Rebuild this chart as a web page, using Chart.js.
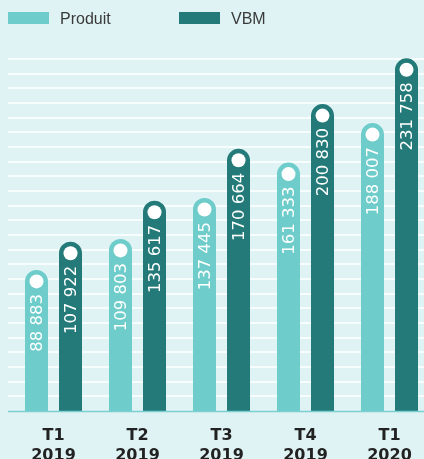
<!DOCTYPE html>
<html><head><meta charset="utf-8">
<script src="https://cdn.jsdelivr.net/npm/chart.js@4/dist/chart.umd.min.js"></script>
<style>
html,body{margin:0;padding:0;overflow:hidden;background:#dff3f4;width:424px;height:459px}
#wrap{position:absolute;left:0;top:0;width:440px;height:459px}
</style></head><body>
<div id="wrap"><canvas id="c"></canvas></div>
<script>
const QUARTERS = ['T1', 'T2', 'T3', 'T4', 'T1'];
const YEARS = ['2019', '2019', '2019', '2019', '2020'];
const SERIES_NAMES = ['Produit', 'VBM'];
const PRODUIT = [88883, 109803, 137445, 161333, 188007];
const VBM = [107922, 135617, 170664, 200830, 231758];
const Y_MIN = -6400;
const Y_MAX = 231300;
const GRID_COUNT = 24;

const COL_PRODUIT = '#6eccca';
const COL_VBM = '#237a78';

function fmt(v) { return String(v).replace(/\B(?=(\d{3})+(?!\d))/g, ' '); }

const gridPlugin = {
  id: 'gridDeco',
  beforeDatasetsDraw(chart) {
    const ctx = chart.ctx, y = chart.scales.y;
    ctx.save();
    ctx.strokeStyle = '#ffffff';
    ctx.lineWidth = 1.5;
    for (let i = 1; i <= GRID_COUNT; i++) {
      const py = Math.round(y.getPixelForValue(Y_MIN + i * (Y_MAX - Y_MIN) / GRID_COUNT));
      ctx.beginPath(); ctx.moveTo(8, py); ctx.lineTo(chart.width, py); ctx.stroke();
    }
    ctx.restore();
  },
  afterDatasetsDraw(chart) {
    const ctx = chart.ctx, y = chart.scales.y;
    ctx.save();
    const base = y.getPixelForValue(Y_MIN);
    ctx.strokeStyle = '#7ccfcf';
    ctx.lineWidth = 1.5;
    ctx.beginPath(); ctx.moveTo(8, base + 0.5); ctx.lineTo(chart.width, base + 0.5); ctx.stroke();
    chart.data.datasets.forEach((ds, di) => {
      const meta = chart.getDatasetMeta(di);
      meta.data.forEach((bar, i) => {
        ctx.fillStyle = '#ffffff';
        ctx.beginPath(); ctx.arc(bar.x, bar.y + 11.5, 7, 0, Math.PI * 2); ctx.fill();
        ctx.save();
        ctx.translate(bar.x + 1, bar.y + 24);
        ctx.rotate(-Math.PI / 2);
        ctx.font = '16.5px "DejaVu Sans"';
        ctx.textAlign = 'right';
        ctx.textBaseline = 'middle';
        ctx.fillText(fmt(ds.data[i]), 0, 0);
        ctx.restore();
      });
    });
    // legend
    const lx = [8, 179];
    ctx.font = '16px "Liberation Sans", Arial, sans-serif';
    ctx.textBaseline = 'alphabetic';
    ctx.textAlign = 'left';
    chart.data.datasets.forEach((ds, di) => {
      ctx.fillStyle = ds.backgroundColor;
      ctx.fillRect(lx[di], 12, 41, 12);
      ctx.fillStyle = '#3a3a3a';
      ctx.fillText(ds.label, lx[di] + 52, 24);
    });
    ctx.restore();
  }
};

new Chart(document.getElementById('c'), {
  type: 'bar',
  data: {
    labels: QUARTERS.map((q, i) => [q, YEARS[i]]),
    datasets: [
      { label: SERIES_NAMES[0], data: PRODUIT, backgroundColor: COL_PRODUIT },
      { label: SERIES_NAMES[1], data: VBM, backgroundColor: COL_VBM }
    ]
  },
  options: {
    responsive: true,
    maintainAspectRatio: false,
    animation: false,
    devicePixelRatio: 1,
    layout: { padding: { top: 59, left: 11.5, right: 8.5, bottom: -22 } },
    datasets: {
      bar: {
        base: Y_MIN,
        categoryPercentage: 0.81,
        barPercentage: 0.676,
        borderRadius: { topLeft: 11.5, topRight: 11.5, bottomLeft: 0, bottomRight: 0 },
        borderSkipped: 'start',
        clip: false
      }
    },
    plugins: { legend: { display: false }, tooltip: { enabled: false } },
    scales: {
      y: { display: false, min: Y_MIN, max: Y_MAX },
      x: {
        grid: { display: false, drawTicks: false },
        border: { display: false },
        ticks: {
          color: '#222222',
          padding: 15,
          maxRotation: 0,
          font: { family: '"DejaVu Sans"', size: 16, weight: 'bold', lineHeight: 1.25 }
        }
      }
    }
  },
  plugins: [gridPlugin]
});
</script>
</body></html>
